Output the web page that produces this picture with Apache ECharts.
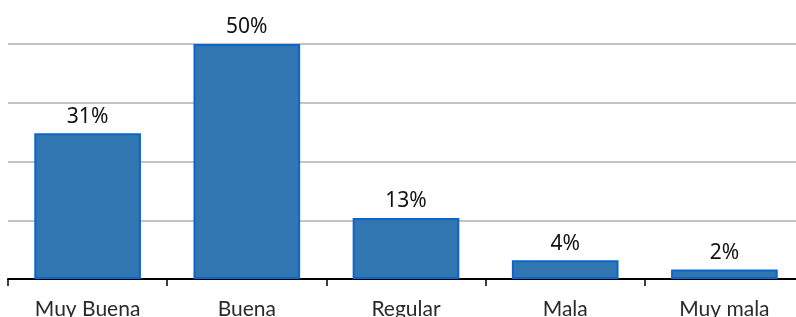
<!DOCTYPE html>
<html><head><meta charset="utf-8">
<script src="https://cdn.jsdelivr.net/npm/echarts@6/dist/echarts.min.js"></script>
<style>html,body{margin:0;padding:0;background:#fff}#c{width:796px;height:317px}</style>
</head><body><div id="c"></div>
<script>
const categories = ["Muy Buena", "Buena", "Regular", "Mala", "Muy mala"];
const values = [31, 50, 13, 4, 2];
const yTicks = [0, 12.5, 25, 37.5, 50];

const chart = echarts.init(document.getElementById('c'), null, {renderer: 'canvas'});
chart.setOption({
  animation: false,
  grid: {left: 8, width: 796, top: 44, bottom: 38, containLabel: false, outerBoundsMode: 'none'},
  xAxis: {
    type: 'category', data: categories,
    axisLine: {lineStyle: {color: '#000', width: 2}},
    axisTick: {show: true, length: 7, lineStyle: {color: '#000', width: 1.5}},
    axisLabel: {color: '#2a2a2a', fontFamily: 'Lato', fontSize: 21, margin: 20, interval: 0}
  },
  yAxis: {
    type: 'value', min: yTicks[0], max: yTicks[yTicks.length - 1], interval: yTicks[1] - yTicks[0],
    axisLabel: {show: false}, axisLine: {show: false}, axisTick: {show: false},
    splitLine: {lineStyle: {color: '#c4c4c4', width: 2}}
  },
  series: [{
    type: 'bar', data: values, barWidth: '67%',
    itemStyle: {color: '#3276b1', borderColor: '#0a66cc', borderWidth: 2},
    label: {show: true, position: 'top', distance: 6, formatter: '{c}%', color: '#111', fontFamily: 'Noto Sans', fontSize: 21}
  }]
});
</script></body></html>
